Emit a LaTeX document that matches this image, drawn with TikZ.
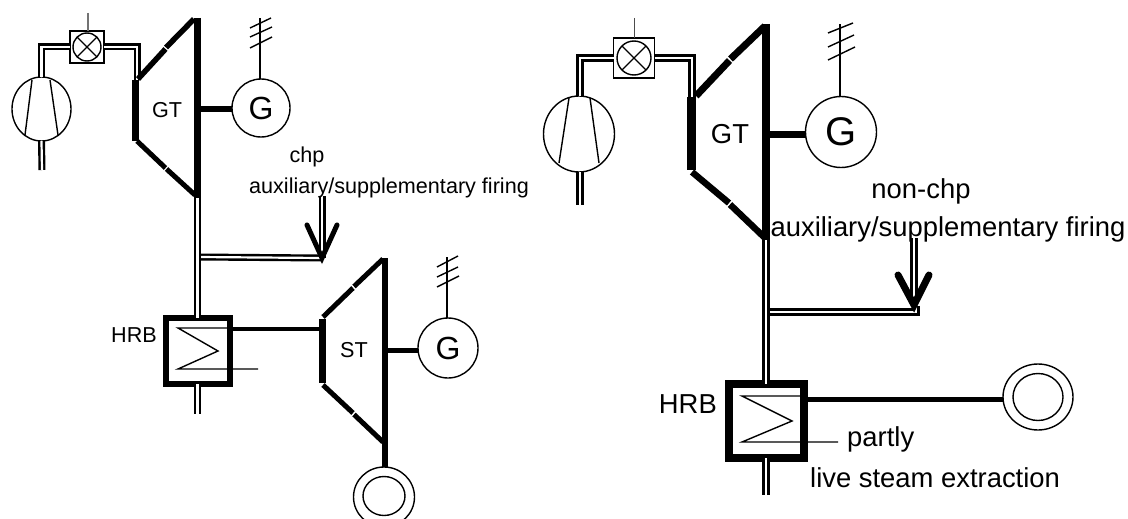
\documentclass[tikz,border=0pt]{standalone}
\usepackage{fontspec}
\setmainfont{Liberation Sans}
\usetikzlibrary{shapes.geometric}

\begin{document}
\begin{tikzpicture}[x=1pt,y=-1pt,
    ele/.style={draw,line width=1.4pt,inner sep=0pt,outer sep=0pt},
    pipesm/.style={double,line width=2.4pt,double distance=2.2pt},
    pipebg/.style={double,line width=2.8pt,double distance=2.6pt},
    lblsm/.style={inner sep=0pt,font=\fontsize{21.6}{26}\selectfont},
    lblbg/.style={inner sep=0pt,font=\fontsize{27.4}{33}\selectfont},
    wire/.style={line width=1.4pt}]
  \clip (0,0) rectangle (1128,519);

  % left plant, gas turbine part
  \node[ele,ellipse,minimum width=59pt,minimum height=64pt] (compL) at (41.5,109) {};
  \node[ele,rectangle,minimum width=34pt,minimum height=32pt] (burnL) at (87,47) {};
  \node[ele,circle,minimum size=28pt] (burnLc) at (87,47) {};
  \coordinate (inL) at (42,170);
  \coordinate (gtinL) at (137,80);
  \coordinate (stubL) at (88,13);
  \draw[pipesm] (compL.north) |- (burnL.west);
  \draw[pipesm] (burnL.east) -| (gtinL);
  \draw[pipesm] (compL.south) -- (inL);
  \draw[wire,black!55] (stubL) -- (burnL.north -| stubL);
  \draw[wire] (burnLc.45) -- (burnLc.225) (burnLc.135) -- (burnLc.315);
  \draw[wire] (32,80) -- (25,135) (50,80) -- (58,135);

  \draw[line width=6.5pt] (135.5,80) -- (135.5,141);
  \draw[line width=5.5pt] (138,79) -- (165.5,49);
  \draw[line width=5.5pt] (166,47.5) -- (194,19);
  \draw[line width=5pt] (137,141) -- (165.5,168);
  \draw[line width=5pt] (166.5,169) -- (195,195);
  \draw[line width=6.5pt] (197.5,18) -- (197.5,198);
  \node[lblsm] (gtL) at (167,110) {GT};

  \node[ele,circle,minimum size=58pt] (genL) at (261,108) {\fontsize{32}{32}\selectfont G};
  \coordinate (gtoutL) at (200,109);
  \draw[line width=5pt] (gtoutL) -- (genL.west |- gtoutL);
  \coordinate (busL) at (260,18);
  \draw[wire] (genL.north -| busL) -- (busL);
  \draw[wire] (250,28) -- (271,18) (250,37) -- (272,27) (250,48) -- (272,37);

  % left plant, firing and boiler
  \node[draw,line width=6.5pt,inner sep=0pt,outer sep=0pt,minimum width=64pt,minimum height=66pt] (hrbL) at (198,351) {};
  \coordinate (gasL) at (197.5,198);
  \coordinate (outL) at (197.5,414);
  \coordinate (branchL) at (197.5,257);
  \coordinate (fireL) at (322,196);
  \coordinate (tipL) at (322,258);
  \draw[pipesm] (branchL) -- (tipL);
  \draw[pipesm] (gasL) -- (gasL |- hrbL.north);
  \draw[pipesm] (outL |- hrbL.south) -- (outL);
  \draw[pipesm] (fireL) -- (tipL);
  \draw[line width=5pt,line cap=round] (307,225) -- (tipL) -- (337,225);
  \draw[wire] (230,328) -- (178,328) -- (218,351) -- (178,369) -- (258,369);
  \node[lblsm,left=0pt] (hrbLl) at (157,335) {HRB};
  \coordinate (stinL) at (322,329);
  \draw[line width=4pt] (233,329) -- (stinL);

  \draw[line width=6.5pt] (322.5,319) -- (322.5,383);
  \draw[line width=5pt] (323,317) -- (353,288);
  \draw[line width=5pt] (354,286.5) -- (383,259);
  \draw[line width=5pt] (323,385) -- (353,413);
  \draw[line width=5pt] (354,414.5) -- (383,442);
  \draw[line width=6.5pt] (385,258) -- (385,442);
  \node[lblsm] (stL) at (354,350) {ST};

  \node[ele,circle,minimum size=60pt] (genS) at (448,348) {\fontsize{32}{32}\selectfont G};
  \coordinate (stoutL) at (388,350);
  \draw[line width=5pt] (stoutL) -- (genS.west |- stoutL);
  \coordinate (busS) at (447,257);
  \draw[wire] (genS.north -| busS) -- (busS);
  \draw[wire] (437,267) -- (458,256) (437,277) -- (458,267) (437,287) -- (459,276);

  \node[ele,ellipse,minimum width=61pt,minimum height=60pt] (condL) at (384,497) {};
  \node[ele,ellipse,minimum width=42pt,minimum height=39pt] (condLi) at (384,496) {};
  \coordinate (shaftL) at (385,442);
  \draw[line width=6.5pt] (shaftL) -- (condL.north -| shaftL);

  \node[lblsm] (chp) at (307,157) {chp};
  \node[lblsm] (auxL) at (389,188) {auxiliary/supplementary firing};

  % right plant, gas turbine part
  \node[ele,ellipse,minimum width=71pt,minimum height=76pt] (compR) at (579,134) {};
  \node[ele,rectangle,minimum width=41pt,minimum height=40pt] (burnR) at (634,58) {};
  \node[ele,circle,minimum size=34pt] (burnRc) at (634,58) {};
  \coordinate (inR) at (580,205);
  \coordinate (gtinR) at (692,97);
  \coordinate (stubR) at (634.5,18);
  \draw[pipebg] (compR.north -| inR) |- (burnR.west);
  \draw[pipebg] (burnR.east) -| (gtinR);
  \draw[pipebg] (compR.south -| inR) -- (inR);
  \draw[wire,line width=1pt,black!70] (stubR) -- (burnR.north -| stubR);
  \draw[wire] (burnRc.45) -- (burnRc.225) (burnRc.135) -- (burnRc.315);
  \draw[wire] (569,98) -- (559,163) (590,98) -- (599,163);

  \draw[line width=8.5pt] (691.5,97) -- (691.5,170);
  \draw[line width=7pt] (696,96) -- (729.5,60.5);
  \draw[line width=7pt] (730.5,59) -- (765,26);
  \draw[line width=6.5pt] (692,172) -- (729,203);
  \draw[line width=6.5pt] (730,204.5) -- (765,238);
  \draw[line width=8pt] (766,24) -- (766,240);
  \node[lblbg] (gtR) at (730,134) {GT};

  \node[ele,circle,minimum size=71pt] (genR) at (841,132) {\fontsize{40}{40}\selectfont G};
  \coordinate (gtoutR) at (770,134);
  \draw[line width=7pt] (gtoutR) -- (genR.west |- gtoutR);
  \coordinate (busR) at (840,24);
  \draw[wire] (genR.north -| busR) -- (busR);
  \draw[wire] (828,33) -- (853,23) (828,47) -- (854,35) (828,60) -- (855,47);

  % right plant, firing and boiler
  \node[draw,line width=8pt,inner sep=0pt,outer sep=0pt,minimum width=75pt,minimum height=74pt] (hrbR) at (766.5,421) {};
  \coordinate (gasR) at (766,240);
  \coordinate (outR) at (766,495);
  \coordinate (branchR) at (766,312);
  \coordinate (fireR) at (914,238);
  \coordinate (tipR) at (914,305);
  \draw[pipebg] (branchR) -- (916,312) -- (916,306);
  \draw[pipebg] (gasR) -- (gasR |- hrbR.north);
  \draw[pipebg] (outR |- hrbR.south) -- (outR);
  \draw[pipebg] (fireR) -- (tipR);
  \draw[line width=7pt,line cap=round] (898,275) -- (tipR) -- (929,275);
  \draw[wire] (804,396) -- (742,396) -- (792,421) -- (742,442) -- (838,442);
  \node[lblbg,left=0pt] (hrbRl) at (717,404) {HRB};

  \node[ele,ellipse,minimum width=70pt,minimum height=66pt] (condR) at (1038,397) {};
  \node[ele,ellipse,minimum width=50pt,minimum height=47pt] (condRi) at (1038,397) {};
  \coordinate (steamR) at (808,399);
  \draw[line width=5pt] (steamR) -- (condR.west |- steamR);

  \node[lblbg] (nonchp) at (921,191) {non-chp};
  \node[lblbg] (auxR) at (948,229) {auxiliary/supplementary firing};
  \node[lblbg,right=0pt] (partly) at (847,439) {partly};
  \node[lblbg,right=0pt] (extr) at (810,478) {live steam extraction};
\end{tikzpicture}
\end{document}
